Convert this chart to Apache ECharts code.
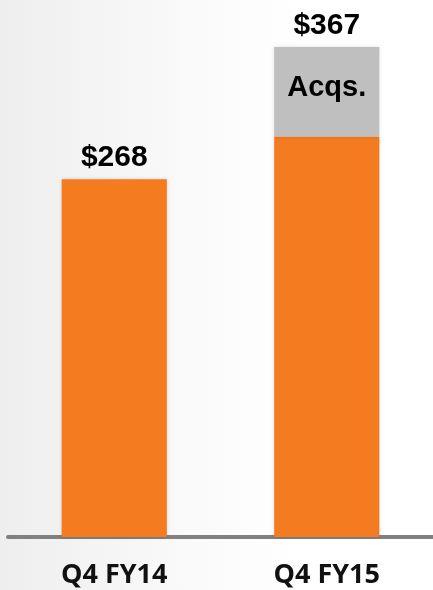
<!DOCTYPE html>
<html>
<head>
<meta charset="utf-8">
<script src="https://cdn.jsdelivr.net/npm/echarts@6/dist/echarts.min.js"></script>
<style>html,body{margin:0;padding:0;}#c{width:433px;height:590px;}</style>
</head>
<body>
<div id="c"></div>
<script>
const categories = ['Q4 FY14', 'Q4 FY15'];
const baseValues = [268, 300];
const acqValues = [0, 67];
const totalLabels = ['$268', '$367'];
const acqLabel = 'Acqs.';

const chart = echarts.init(document.getElementById('c'));
chart.setOption({
  animation: false,
  backgroundColor: {
    type: 'linear', x: 0, y: 0, x2: 1, y2: 0,
    colorStops: [
      {offset: 0, color: '#eeeeee'},
      {offset: 0.45, color: '#fafafa'},
      {offset: 0.7, color: '#ffffff'},
      {offset: 1, color: '#ffffff'}
    ]
  },
  grid: {left: 8, width: 432, top: 3, bottom: 53, containLabel: false},
  xAxis: {
    type: 'category',
    data: categories,
    axisLine: {lineStyle: {color: '#808080', width: 4}},
    axisTick: {show: false},
    axisLabel: {
      margin: 25,
      color: '#111',
      fontFamily: 'Open Sans',
      fontWeight: 'bold',
      fontSize: 27
    }
  },
  yAxis: {type: 'value', min: 0, max: 400, show: false, splitLine: {show: false}},
  series: [
    {
      name: 'Base', type: 'bar', stack: 's', barWidth: '49.5%',
      data: baseValues,
      itemStyle: {color: '#f47b20', shadowColor: 'rgba(0,0,0,0.12)', shadowBlur: 4}
    },
    {
      name: 'Acqs', type: 'bar', stack: 's',
      data: acqValues,
      itemStyle: {color: '#bfbfbf', shadowColor: 'rgba(0,0,0,0.12)', shadowBlur: 4},
      label: {
        show: true, position: 'inside', offset: [0, -4],
        formatter: p => p.value > 0 ? acqLabel : '',
        color: '#000', fontFamily: 'Liberation Sans', fontWeight: 'bold', fontSize: 29
      }
    },
    {
      name: 'Total', type: 'bar', stack: 's',
      data: [0, 0],
      itemStyle: {color: 'transparent'},
      label: {
        show: true, position: 'top', distance: 6,
        formatter: p => totalLabels[p.dataIndex],
        color: '#000', fontFamily: 'Liberation Sans', fontWeight: 'bold', fontSize: 30
      }
    }
  ]
});
</script>
</body>
</html>
